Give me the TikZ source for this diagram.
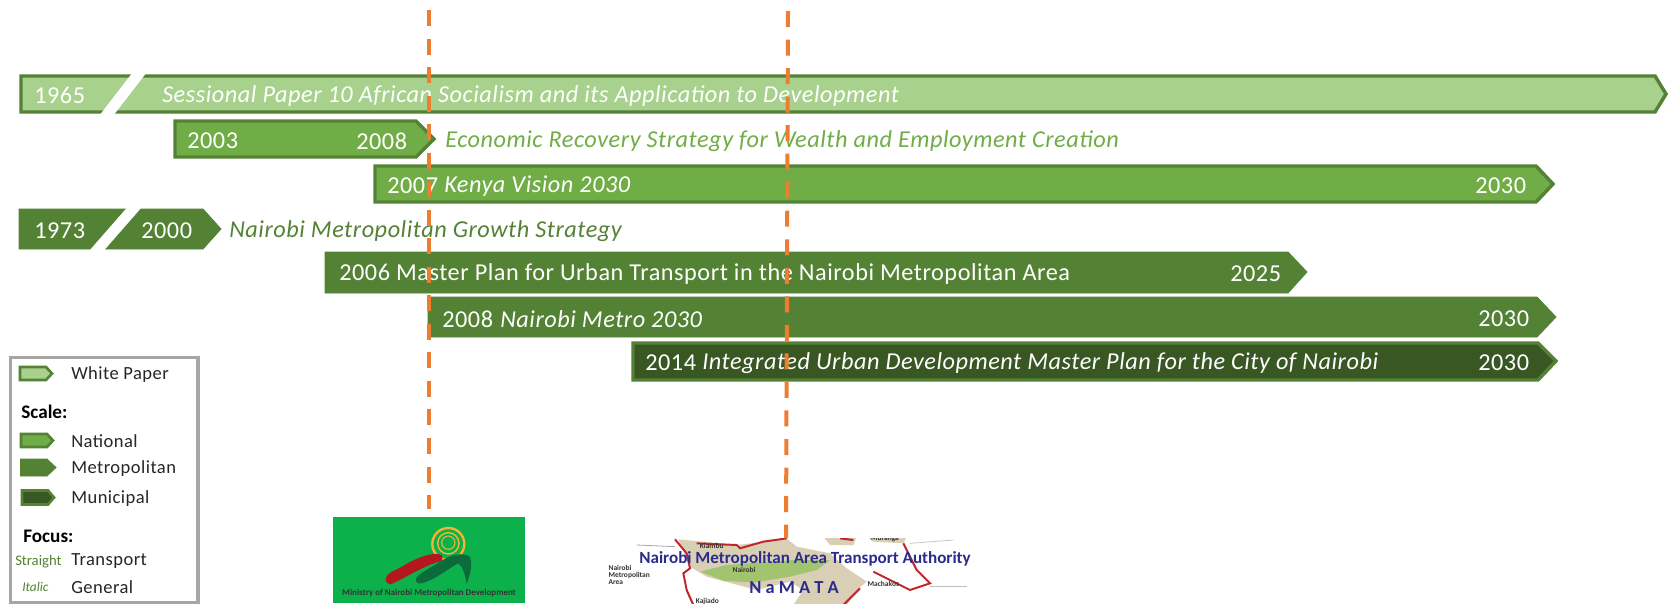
\documentclass[tikz,border=0pt]{standalone}
\usepackage{fontspec}
\setmainfont{Carlito}
\newfontfamily\spfont[LetterSpace=2.2]{Carlito}
\newfontfamily\lgfont[LetterSpace=2.5]{Carlito}
\definecolor{wpfill}{HTML}{A9D18E}
\definecolor{natfill}{HTML}{70AD47}
\definecolor{metfill}{HTML}{548235}
\definecolor{munfill}{HTML}{385723}
\definecolor{dashor}{HTML}{ED7D31}
\definecolor{legbd}{HTML}{A9A5A5}
\definecolor{mapblue}{HTML}{2B2B8E}
\definecolor{maptan}{HTML}{D8CFB4}
\definecolor{mapgreen}{HTML}{A3C46E}
\definecolor{mapred}{HTML}{C0272D}
\definecolor{logogreen}{HTML}{0DB14B}
\definecolor{ringor}{HTML}{F2B233}
\definecolor{swred}{HTML}{B5171F}
\definecolor{swgreen}{HTML}{0B6B3A}
\tikzset{
 px/.style={x=0.75pt,y=-0.75pt},
 wpbar/.style={fill=wpfill,draw=metfill,line width=2.6pt},
 natbar/.style={fill=natfill,draw=metfill,line width=2.6pt},
 metbar/.style={fill=metfill,draw=metfill,line width=0.6pt},
 munbar/.style={fill=munfill,draw=metfill,line width=2.6pt},
 cutmark/.style={fill=white,draw=none},
 bartext/.style={anchor=west,inner sep=0pt,text=white,font=\spfont\fontsize{18.2}{20}\selectfont},
 baritalic/.style={bartext,font=\spfont\itshape\fontsize{18.2}{20}\selectfont},
 outtext/.style={anchor=west,inner sep=0pt,font=\spfont\itshape\fontsize{18.2}{20}\selectfont},
 legtext/.style={anchor=west,inner sep=0pt,text=black!85,font=\lgfont\fontsize{13.9}{16}\selectfont},
 leghead/.style={anchor=west,inner sep=0pt,text=black,font=\bfseries\fontsize{14.4}{16}\selectfont},
 legsmall/.style={anchor=west,inner sep=0pt,text=metfill,font=\fontsize{11}{13}\selectfont},
 dashline/.style={draw=dashor,line width=3pt,dash pattern=on 12pt off 9.4pt},
 maplabel/.style={inner sep=0pt,text=black!80,font=\bfseries\fontsize{5.6}{5.8}\selectfont},
 mapline/.style={mapred,line width=1.5pt},
}
\begin{document}
\begin{tikzpicture}[px]
\useasboundingbox (0,0) rectangle (1669,603);
\fill[white] (0,0) rectangle (1669,603);
% bars
\draw[wpbar] (21,76) -- (1655,76) -- (1666,94) -- (1655,112) -- (21,112) -- cycle;
\fill[cutmark] (133,72) -- (147,72) -- (113,116) -- (99,116) -- cycle;
\draw[natbar] (175,121) -- (416,121) -- (434,139) -- (416,157) -- (175,157) -- cycle;
\draw[natbar] (375,166) -- (1536,166) -- (1553,184) -- (1536,202) -- (375,202) -- cycle;
\draw[metbar] (19,209) -- (125,209) -- (90,249) -- (19,249) -- cycle;
\draw[metbar] (141,209) -- (203,209) -- (221,229) -- (203,249) -- (106,249) -- cycle;
\draw[metbar] (325,252) -- (1288,252) -- (1307,272) -- (1288,293) -- (325,293) -- cycle;
\draw[metbar] (428,297) -- (1537,297) -- (1556,317) -- (1537,337) -- (428,337) -- cycle;
\draw[munbar] (633,343) -- (1538,343) -- (1556,361) -- (1538,380) -- (633,380) -- cycle;
% bar texts
\node[bartext] (y1965) at (34,95) {1965};
\node[baritalic] (t1) at (162,96) {Sessional Paper 10 African Socialism and its Application to Development};
\node[bartext] (y2003) at (187,141) {2003};
\node[bartext] (y2008a) at (356,141) {2008};
\node[outtext,text=natfill] (t2) at (445,141) {Economic Recovery Strategy for Wealth and Employment Creation};
\node[bartext] (y2007) at (387,186) {2007};
\node[baritalic] (t3) at (444,186) {Kenya Vision 2030};
\node[bartext] (y2030a) at (1475,186) {2030};
\node[bartext] (y1973) at (34,231) {1973};
\node[bartext] (y2000) at (141,231) {2000};
\node[outtext,text=metfill] (t4) at (229,231) {Nairobi Metropolitan Growth Strategy};
\node[bartext] (t5) at (339,274) {2006 Master Plan for Urban Transport in the Nairobi Metropolitan Area};
\node[bartext] (y2025) at (1230,274) {2025};
\node[bartext] (y2008b) at (442,319) {2008};
\node[baritalic] (t6) at (500,319) {Nairobi Metro 2030};
\node[bartext] (y2030b) at (1478,319) {2030};
\node[bartext] (y2014) at (645,363) {2014};
\node[baritalic] (t7) at (702,363) {Integrated Urban Development Master Plan for the City of Nairobi};
\node[bartext] (y2030c) at (1478,363) {2030};
% logo 1
\fill[logogreen] (333,517) rectangle (525,603);
\begin{scope}[shift={(320,500)},x=0.25pt,y=-0.25pt]
\draw[ringor,line width=1.8pt] (385,132) circle (48);
\draw[ringor,line width=1.1pt] (385,130) circle (32);
\draw[ringor,line width=.8pt] (385,128) circle (20);
\fill[swred] (197,238) .. controls (200,215) and (230,212) .. (262,190) .. controls (300,170) and (340,155) .. (365,165) .. controls (372,178) and (365,185) .. (350,187) .. controls (310,200) and (270,225) .. (215,252) .. controls (205,254) and (198,248) .. (197,238) -- cycle;
\fill[swgreen] (287,238) .. controls (292,222) and (330,205) .. (360,185) .. controls (390,165) and (425,155) .. (450,170) .. controls (458,195) and (450,225) .. (440,252) .. controls (435,225) and (430,200) .. (415,190) .. controls (385,205) and (345,240) .. (305,250) .. controls (295,252) and (288,248) .. (287,238) -- cycle;
\end{scope}
\node[inner sep=0pt,text=black!80,font=\bfseries\fontsize{6.7}{7}\selectfont] (logotext) at (429,593) {Ministry of Nairobi Metropolitan Development};
% map
\begin{scope}
\clip (605,538) rectangle (985,603);
\begin{scope}[shift={(590,510)},x=0.25pt,y=-0.25pt]
\fill[maptan] (265,88) -- (440,105) -- (530,95) -- (590,85) -- (620,110) -- (720,130) -- (770,175) -- (830,215) -- (800,240) -- (770,285) -- (610,285) -- (640,240) -- (600,215) -- (500,240) -- (350,200) -- (300,170) -- cycle;
\fill[maptan] (700,80) -- (800,80) -- (790,105) -- (720,105) -- cycle;
\fill[maptan] (830,80) -- (950,80) -- (940,100) -- (850,95) -- cycle;
\fill[mapgreen] (330,185) -- (410,165) -- (610,150) -- (720,150) -- (680,180) -- (600,200) -- (490,218) -- (400,212) -- cycle;
\draw[mapline] (255,88) -- (290,130) -- (300,175) -- (280,190) -- (290,240) -- (310,285);
\draw[mapline] (320,100) -- (440,105) -- (450,115) -- (520,95) -- (590,85);
\draw[mapline] (750,85) -- (790,90);
\draw[mapline] (940,100) -- (980,180) -- (1020,220) -- (960,240) -- (850,185);
\draw[mapline] (760,285) -- (810,235);
\draw[black!35,line width=.6pt] (140,105) -- (255,110);
\draw[black!25,line width=.5pt] (960,100) -- (1090,90);
\draw[black!25,line width=.5pt] (1020,230) -- (1130,230);
\node[maplabel] (mapA) at (365,107) {Kiambu};
\node[maplabel] (mapB) at (885,87) {Muranga};
\node[maplabel] (mapC) at (462,179) {Nairobi};
\node[maplabel,align=left,anchor=west] (mapD) at (55,195) {Nairobi\\[-.6pt]Metropolitan\\[-.6pt]Area};
\node[maplabel] (mapE) at (880,222) {Machakos};
\node[maplabel] (mapF) at (352,274) {Kajiado};
\end{scope}
\end{scope}
\node[inner sep=0pt,text=mapblue,font=\bfseries\fontsize{12.8}{14}\selectfont] (maptitle) at (805,559) {Nairobi Metropolitan Area Transport Authority};
\node[inner sep=0pt,text=mapblue,font=\bfseries\fontsize{13.8}{15}\selectfont] (mapname) at (794,588) {N a M A T A};
% legend
\node[draw=legbd,line width=2.4pt,fill=white,inner sep=0pt,anchor=north west,minimum width=140.5pt,minimum height=183.5pt] (legend) at (9,356) {};
\draw[wpbar,line width=2pt] (20,367) -- (46,367) -- (52,373.5) -- (46,380) -- (20,380) -- cycle;
\node[legtext] (l1) at (71,375) {White Paper};
\node[leghead] (l2) at (21,412) {Scale:};
\draw[natbar,line width=2pt] (21,434) -- (47,434) -- (53,440.5) -- (47,447) -- (21,447) -- cycle;
\node[legtext] (l3) at (71,441) {National};
\draw[metbar] (20.5,459) -- (47,459) -- (56,467.5) -- (47,476) -- (20.5,476) -- cycle;
\node[legtext] (l4) at (71,469) {Metropolitan};
\draw[munbar,line width=2pt] (22,490.5) -- (48,490.5) -- (54,497.5) -- (48,504.5) -- (22,504.5) -- cycle;
\node[legtext] (l5) at (71,499) {Municipal};
\node[leghead] (l6) at (23,536) {Focus:};
\node[legsmall] (l7) at (15,562) {Straight};
\node[legtext] (l8) at (71,561) {Transport};
\node[legsmall,font=\itshape\fontsize{10}{12}\selectfont] (l9) at (22,587) {Italic};
\node[legtext] (l10) at (71,587) {General};
% dashed lines
\coordinate (da) at (428.5,10);
\coordinate (db) at (428.5,509);
\coordinate (dc) at (788,11);
\coordinate (dd) at (786,538);
\draw[dashline] (da) -- (db);
\draw[dashline] (dc) -- (dd);
\end{tikzpicture}
\end{document}
